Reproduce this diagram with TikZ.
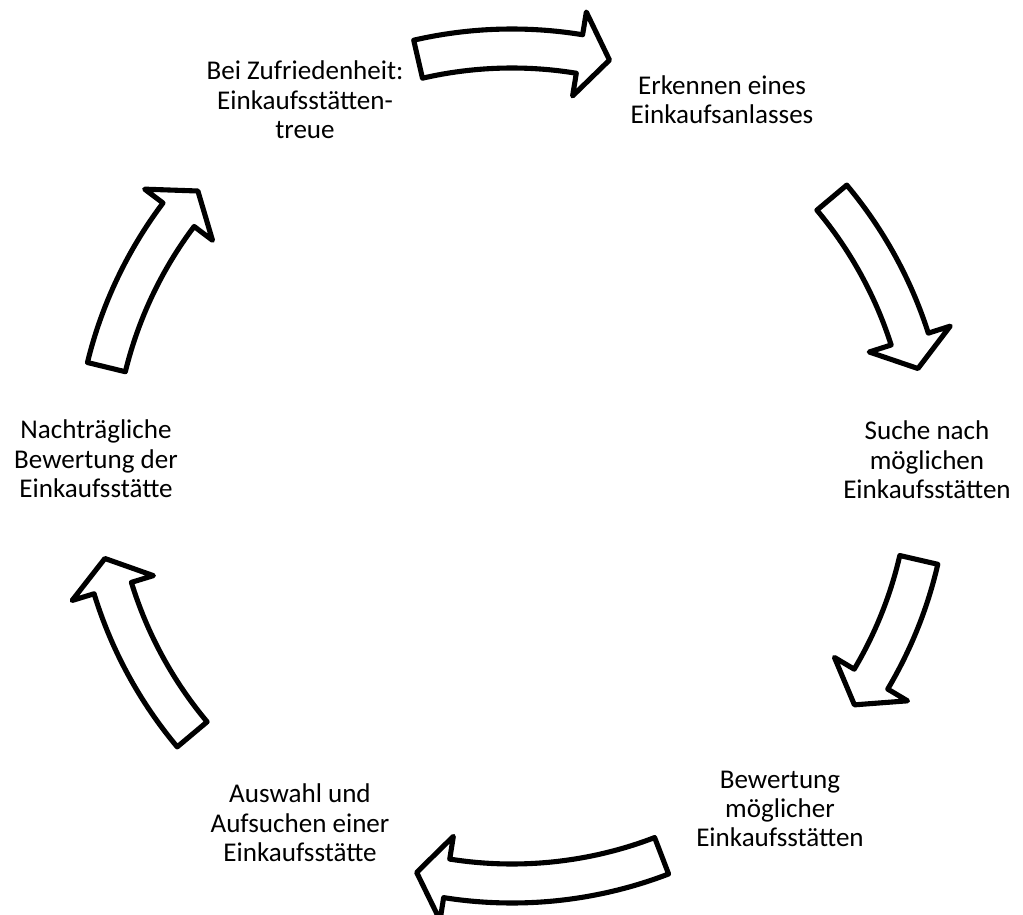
\documentclass[tikz,border=0pt]{standalone}
\usepackage{amsmath, tkz-euclide, tikz, fontspec}
\setmainfont{Carlito}
\usetikzlibrary{calc}
\tikzset{phase/.style = {align=center, inner sep=0pt, font=\fontsize{15.4}{16.7}\selectfont}}
\tikzset{blockarrow/.style = {draw=black, fill=white, line width=2.9pt, line join=round}}
\newcommand{\arrowrin}{7.96}
\newcommand{\arrowrout}{8.74}
\newcommand{\arrowrmid}{8.35}
\newcommand{\headrin}{7.50}
\newcommand{\headrout}{9.20}
\newcommand{\cyclearrow}[2]{%
  \draw[blockarrow] (#1:\arrowrout) arc[start angle=#1, end angle=#2, radius=\arrowrout]
    -- (#2:\headrout) -- ({#2-4.2}:\arrowrmid) -- (#2:\headrin) -- (#2:\arrowrin)
    arc[start angle=#2, end angle=#1, radius=\arrowrin] -- cycle;}

\begin{document}
\begin{tikzpicture}
\useasboundingbox (0,0) rectangle (20.46,18.3);
\tkzDefPoints{10.24/8.98/M, 6.10/16.30/P1, 14.44/16.30/P2, 18.54/9.10/P3, 15.60/2.12/P4, 6.00/1.84/P5, 1.92/9.12/P6}
\node[phase] (loyal) at (P1) {Bei Zufriedenheit:\\Einkaufsstätten-\\treue};
\node[phase] (anlass) at (P2) {Erkennen eines\\Einkaufsanlasses};
\node[phase] (suche) at (P3) {Suche nach\\möglichen\\Einkaufsstätten};
\node[phase] (bewertung) at (P4) {Bewertung\\möglicher\\Einkaufsstätten};
\node[phase] (auswahl) at (P5) {Auswahl und\\Aufsuchen einer\\Einkaufsstätte};
\node[phase] (nachher) at (P6) {Nachträgliche\\Bewertung der\\Einkaufsstätte};
\begin{scope}[shift={(M)}]
\cyclearrow{103}{80.7}
\cyclearrow{40}{17.7}
\cyclearrow{-13}{-30.7}
\cyclearrow{-69}{-99}
\cyclearrow{220}{197}
\cyclearrow{166.3}{143}
\end{scope}
\end{tikzpicture}
\end{document}
